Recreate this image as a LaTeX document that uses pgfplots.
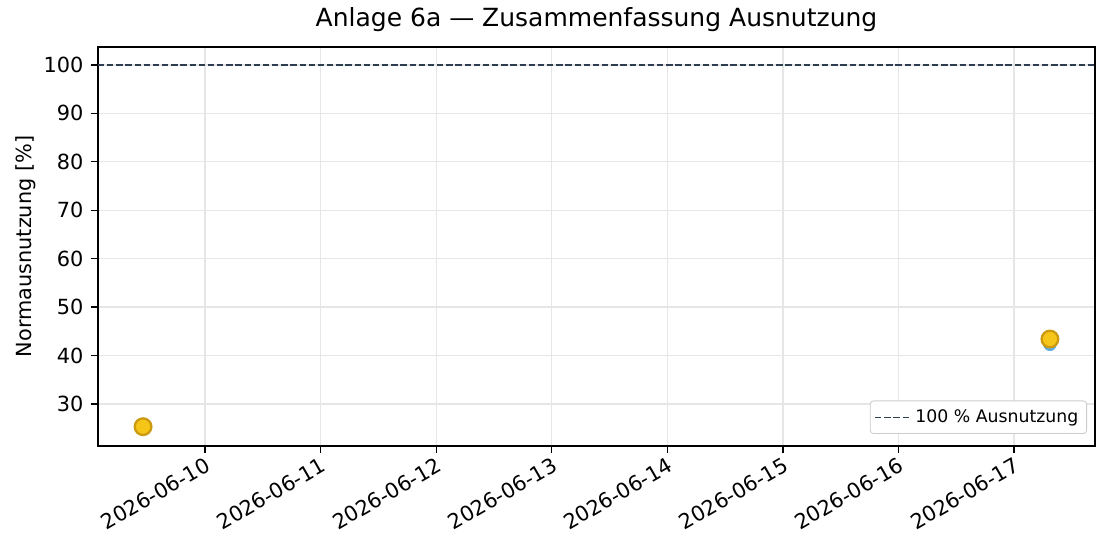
\documentclass[border=0pt]{standalone}
\usepackage{fontspec}
\setmainfont{DejaVu Sans}
\usepackage{pgfplots}
\pgfplotsset{compat=1.18}

\definecolor{refline}{HTML}{2C3E50}
\definecolor{goldfill}{HTML}{F5C518}
\definecolor{goldedge}{HTML}{CC9A10}
\definecolor{bluept}{HTML}{5DADE2}
\definecolor{gridgray}{HTML}{E6E6E6}

\begin{document}
\begin{tikzpicture}
\begin{axis}[
    name=ax,
    width=478.6pt, height=191.5pt,
    scale only axis,
    xmin=9.074, xmax=17.70,
    ymin=21.33, ymax=103.7,
    xtick={10,11,12,13,14,15,16,17},
    xticklabels={2026-06-10,2026-06-11,2026-06-12,2026-06-13,2026-06-14,2026-06-15,2026-06-16,2026-06-17},
    x tick label style={rotate=30, anchor=north east, inner sep=1pt, font=\fontsize{10}{12}\selectfont},
    ytick={30,40,...,100},
    y tick label style={font=\fontsize{10}{12}\selectfont},
    /pgf/number format/assume math mode=true,
    ylabel={Normausnutzung [\%]},
    ylabel style={font=\fontsize{10}{12}\selectfont, yshift=-3pt},
    title={Anlage 6a — Zusammenfassung Ausnutzung},
    title style={font=\fontsize{12}{14}\selectfont, yshift=-2pt},
    grid=major,
    major grid style={gridgray, line width=0.6pt},
    axis line style={line width=0.6pt},
    tick style={black, line width=0.6pt},
    tick align=outside,
    major tick length=3.5pt,
    xtick pos=bottom, ytick pos=left,
    legend style={at={(0.992,0.03)}, anchor=south east,
        font=\fontsize{8.3}{10}\selectfont,
        draw=black!20, rounded corners=1.5pt, inner sep=2pt},
    legend cell align=left,
]
\addplot[refline, dash pattern=on 3pt off 1.4pt, line width=0.6pt] coordinates {(9.074,100) (17.70,100)};
\addlegendentry{100 \% Ausnutzung}
\addplot[only marks, mark=*, mark size=3pt, color=bluept, forget plot] coordinates {
    (9.464,25.2) (17.31,42.3)
};
\addplot[only marks, mark=*, mark size=4pt, draw=goldedge, fill=goldfill, line width=1.1pt, forget plot] coordinates {
    (9.464,25.3) (17.31,43.4)
};
\end{axis}
\pgfresetboundingbox
\path ([shift={(-47.04pt,-52.32pt)}]ax.south west) rectangle ([shift={(7.2pt,22.56pt)}]ax.north east);
\end{tikzpicture}
\end{document}
